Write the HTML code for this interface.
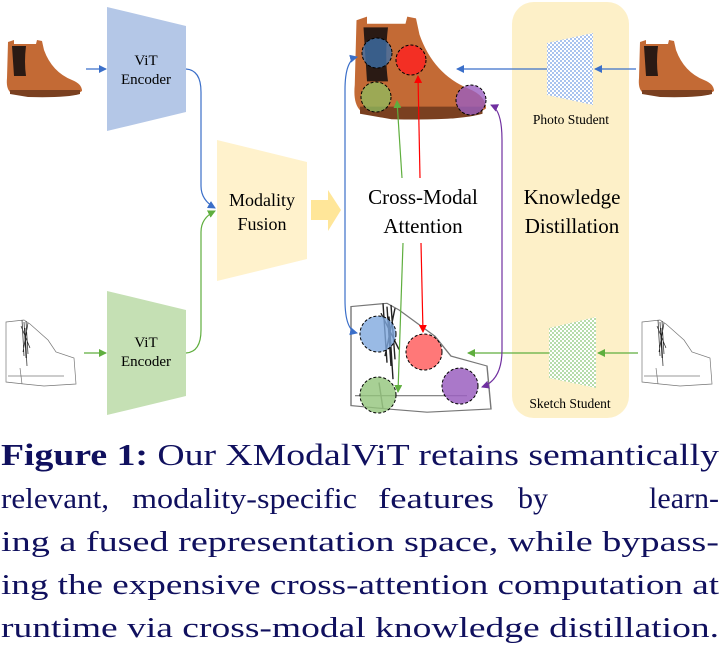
<!DOCTYPE html>
<html><head><meta charset="utf-8"><style>
html,body{margin:0;padding:0;background:#fff;width:722px;height:658px;overflow:hidden}
svg{display:block}
svg text{font-family:"Liberation Serif","Times New Roman",Times,serif}
</style></head><body>
<svg width="722" height="658" viewBox="0 0 722 658" xmlns="http://www.w3.org/2000/svg" font-family="'Liberation Serif', 'Times New Roman', Times, serif">
<defs>
<pattern id="pb" width="4" height="4" patternUnits="userSpaceOnUse"><rect width="4" height="4" fill="#fff"/><rect width="2" height="2" fill="#a9c3ee"/><rect x="2" y="2" width="2" height="2" fill="#a9c3ee"/></pattern>
<pattern id="pg" width="4" height="4" patternUnits="userSpaceOnUse"><rect width="4" height="4" fill="#fff"/><rect width="2" height="2" fill="#b6dcab"/><rect x="2" y="2" width="2" height="2" fill="#b6dcab"/></pattern>
<marker id="ab" markerWidth="8" markerHeight="8" refX="7" refY="4" orient="auto" markerUnits="userSpaceOnUse"><path d="M0,0 L8,4 L0,8 Z" fill="#3b6fc9"/></marker>
<marker id="ag" markerWidth="8" markerHeight="8" refX="7" refY="4" orient="auto" markerUnits="userSpaceOnUse"><path d="M0,0 L8,4 L0,8 Z" fill="#5fae3e"/></marker>
<marker id="ar" markerWidth="8" markerHeight="8" refX="7" refY="4" orient="auto" markerUnits="userSpaceOnUse"><path d="M0,0 L8,4 L0,8 Z" fill="#f00"/></marker>
<marker id="ap" markerWidth="8" markerHeight="8" refX="7" refY="4" orient="auto" markerUnits="userSpaceOnUse"><path d="M0,0 L8,4 L0,8 Z" fill="#7030a0"/></marker>
<marker id="abs" markerWidth="8" markerHeight="8" refX="1" refY="4" orient="auto" markerUnits="userSpaceOnUse"><path d="M8,0 L0,4 L8,8 Z" fill="#3b6fc9"/></marker>
<marker id="aps" markerWidth="8" markerHeight="8" refX="1" refY="4" orient="auto" markerUnits="userSpaceOnUse"><path d="M8,0 L0,4 L8,8 Z" fill="#7030a0"/></marker>
<g id="shoe">
<path d="M2,4 L8,2 L8,6 L30,6 L31,2 L36,3 L38,12 Q46,34 66,42 Q76,46 76,53 Q70,58 40,58 L24,58 L22,54 L4,54 Q0,50 1,40 Z" fill="#c36a35"/>
<path d="M6,8 L20,8 Q18,24 20,38 L8,38 Z" fill="#2a1a14"/>
<path d="M4,52 L74,52 L74,56 Q60,60 22,59 L4,56 Z" fill="#7a4020"/>
</g>
<g id="sk" fill="none" stroke="#777" stroke-width="0.7">
<path d="M2,4 L20,2 L26,6 L44,22 L52,34 L70,40 L72,66 L40,68 L20,66 L2,64 Z M4,58 L60,58 M16,50 L18,66"/>
<path d="M18,2 L20,38 M20,4 L22,40 M22,3 L24,36 M17,8 L26,30 M24,5 L19,34 M21,10 L23,48" stroke="#222"/>
</g>
</defs>

<use href="#shoe" x="6" y="38"/>
<use href="#sk" x="4" y="318"/>
<polygon points="107,7 186,26 186,112 107,131" fill="#b4c7e7"/>
<text x="146" y="65" font-size="15" text-anchor="middle">ViT</text>
<text x="146" y="84" font-size="15" text-anchor="middle">Encoder</text>
<polygon points="107,291 186,310 186,396 107,415" fill="#c5e0b4"/>
<text x="146" y="347" font-size="15" text-anchor="middle">ViT</text>
<text x="146" y="366" font-size="15" text-anchor="middle">Encoder</text>
<polygon points="217,140 307,162 307,259 217,281" fill="#fff2cc"/>
<text x="262" y="206" font-size="18" text-anchor="middle">Modality</text>
<text x="262" y="230" font-size="18" text-anchor="middle">Fusion</text>
<polygon points="311,200 328,200 328,190 341,210 328,231 328,220 311,220" fill="#ffe699"/>
<line x1="86" y1="69" x2="106" y2="69" stroke="#3b6fc9" stroke-width="1.2" marker-end="url(#ab)"/>
<line x1="84" y1="353" x2="106" y2="353" stroke="#5fae3e" stroke-width="1.2" marker-end="url(#ag)"/>
<path d="M186,69 Q201,70 201,92 L201,186 Q201,200 215,208" fill="none" stroke="#3b6fc9" stroke-width="1.2" marker-end="url(#ab)"/>
<path d="M186,353 Q201,352 201,330 L201,232 Q201,218 215,211" fill="none" stroke="#5fae3e" stroke-width="1.2" marker-end="url(#ag)"/>

<rect x="512" y="2" width="117" height="416" rx="22" fill="#fdf0c8"/>
<polygon points="547,43 593,33 593,105 547,95" fill="url(#pb)"/>
<polygon points="549,328 596,317 596,388 549,378" fill="url(#pg)"/>
<text x="571" y="124" font-size="13.5" text-anchor="middle">Photo Student</text>
<text x="570" y="408" font-size="13.5" text-anchor="middle">Sketch Student</text>
<text x="572" y="204" font-size="21" text-anchor="middle">Knowledge</text>
<text x="572" y="233" font-size="21" text-anchor="middle">Distillation</text>
<use href="#shoe" x="638" y="38"/>
<use href="#sk" x="640" y="318"/>
<line x1="636" y1="69" x2="595" y2="69" stroke="#3b6fc9" stroke-width="1.2" marker-end="url(#ab)"/>
<line x1="547" y1="69" x2="457" y2="69" stroke="#3b6fc9" stroke-width="1.2" marker-end="url(#ab)"/>
<line x1="638" y1="353" x2="598" y2="353" stroke="#5fae3e" stroke-width="1.2" marker-end="url(#ag)"/>
<line x1="549" y1="353" x2="468" y2="353" stroke="#5fae3e" stroke-width="1.2" marker-end="url(#ag)"/>

<g transform="translate(353,13) scale(1.75,1.8)"><use href="#shoe"/></g>
<g transform="translate(347,300) scale(2,1.65)"><use href="#sk"/></g>
<g stroke="#000" stroke-width="1" stroke-dasharray="3,2">
<circle cx="377" cy="53" r="15" fill="#3d6fa8" fill-opacity="0.8"/>
<circle cx="411" cy="60" r="15" fill="#ff2020" fill-opacity="0.8"/>
<circle cx="376" cy="97" r="15" fill="#8fbf60" fill-opacity="0.75"/>
<circle cx="471" cy="100" r="15" fill="#9b5fc0" fill-opacity="0.8"/>
<circle cx="378" cy="334" r="18" fill="#7fa9de" fill-opacity="0.8"/>
<circle cx="424" cy="352" r="18" fill="#ff6060" fill-opacity="0.85"/>
<circle cx="378" cy="395" r="18" fill="#92c47a" fill-opacity="0.8"/>
<circle cx="460" cy="386" r="18" fill="#9b60c0" fill-opacity="0.85"/>
</g>
<text x="423" y="204" font-size="21" text-anchor="middle">Cross-Modal</text>
<text x="423" y="233" font-size="21" text-anchor="middle">Attention</text>
<path d="M357,57 Q345,60 345,90 L345,300 Q345,330 357,333" fill="none" stroke="#3b6fc9" stroke-width="1.2" marker-start="url(#abs)" marker-end="url(#ab)"/>
<path d="M491,105 Q502,110 502,140 L502,350 Q502,380 482,387" fill="none" stroke="#7030a0" stroke-width="1.2" marker-start="url(#aps)" marker-end="url(#ap)"/>
<line x1="420" y1="178" x2="418" y2="76" stroke="#f00" stroke-width="1.2" marker-end="url(#ar)"/>
<line x1="421" y1="243" x2="423" y2="332" stroke="#f00" stroke-width="1.2" marker-end="url(#ar)"/>
<line x1="402" y1="178" x2="397" y2="101" stroke="#5fae3e" stroke-width="1.2" marker-end="url(#ag)"/>
<line x1="403" y1="243" x2="398" y2="392" stroke="#5fae3e" stroke-width="1.2" marker-end="url(#ag)"/>

<g fill="#10105e" font-size="28">
<text x="1" y="465" font-size="31" textLength="718" lengthAdjust="spacingAndGlyphs"><tspan font-weight="bold">Figure 1:</tspan> Our XModalViT retains semantically</text>
<text x="1" y="508" textLength="108" lengthAdjust="spacingAndGlyphs">relevant,</text>
<text x="132" y="508" textLength="225" lengthAdjust="spacingAndGlyphs">modality-specific</text>
<text x="378" y="508" textLength="116" lengthAdjust="spacingAndGlyphs">features</text>
<text x="518" y="508" font-size="30">by</text>
<text x="719" y="508" font-size="30" text-anchor="end">learn-</text>
<text x="1" y="551" textLength="718" lengthAdjust="spacingAndGlyphs">ing a fused representation space, while bypass-</text>
<text x="1" y="594" textLength="718" lengthAdjust="spacingAndGlyphs">ing the expensive cross-attention computation at</text>
<text x="1" y="637" textLength="718" lengthAdjust="spacingAndGlyphs">runtime via cross-modal knowledge distillation.</text>
</g>
</svg>
</body></html>
